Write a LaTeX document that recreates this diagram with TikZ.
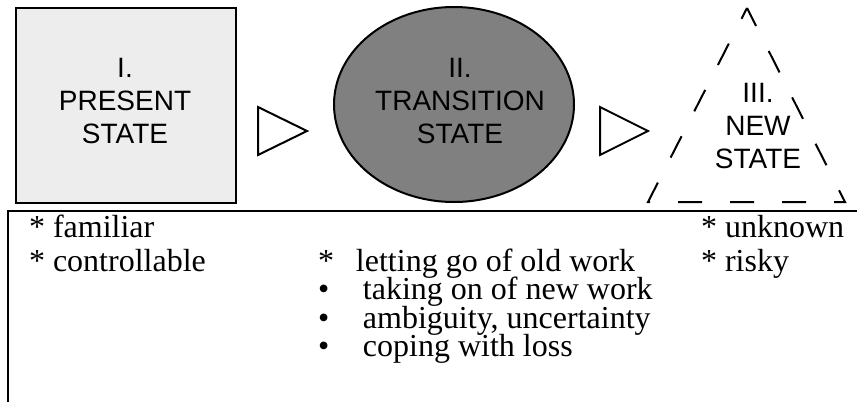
\documentclass[tikz,border=0pt]{standalone}
\usepackage{fontspec}
\setmainfont{Liberation Serif}
\newfontfamily\labelfont{Liberation Sans}
\usetikzlibrary{shapes.geometric}
\newcommand\tightlines{\lineskiplimit=-100pt\relax}

\begin{document}
\begin{tikzpicture}[x=1pt, y=-1pt, line width=2pt,
	every node/.style={inner sep=0pt},
	statelabel/.style={font=\labelfont\fontsize{28}{33}\selectfont, align=center},
	notes/.style={font=\fontsize{32}{#1}\selectfont\tightlines, align=left, anchor=base west}]
	\useasboundingbox (0,0) rectangle (857,402);

	% the three states
	\node (present) [draw, rectangle, fill=black!7, minimum width=220pt, minimum height=195pt] at (126,105.5) {};
	\node (transition) [draw, ellipse, fill=black!50, minimum width=240pt, minimum height=195pt] at (454,104.5) {};
	\coordinate (apex) at (747,8);
	\coordinate (leftfoot) at (648,202);
	\coordinate (rightfoot) at (845,202);
	\draw[dash pattern=on 24pt off 28pt, dash phase=12pt] (apex) -- (leftfoot) -- (rightfoot) -- (apex);

	\node (presenttext) [statelabel] at (125,101) {I.\\PRESENT\\STATE};
	\node (transitiontext) [statelabel] at (460,101) {II.\\TRANSITION\\STATE};
	\node (newtext) [statelabel] at (758,126) {III.\\NEW\\STATE};

	% hollow arrows
	\draw (258,107) -- (258,155) -- (307,131) -- cycle;
	\draw (600,107) -- (600,155) -- (648,131) -- cycle;

	% frame of the notes
	\coordinate (corner) at (8,211);
	\draw[line width=2.5pt] (857,211) -- (corner) -- (8,402);

	% notes (placed at the baseline of their last line)
	\node (familiar) [notes=34] at (28,271) {* familiar\\* controllable};
	\node (transnotes) [notes=28.5] at (317,356.5) {\makebox[38pt][l]{*}letting go of old work\\
		\makebox[45pt][l]{\textbullet}taking on of new work\\
		\makebox[45pt][l]{\textbullet}ambiguity, uncertainty\\
		\makebox[45pt][l]{\textbullet}coping with loss};
	\node (unknown) [notes=34] at (700,271) {* unknown\\* risky};
\end{tikzpicture}
\end{document}
